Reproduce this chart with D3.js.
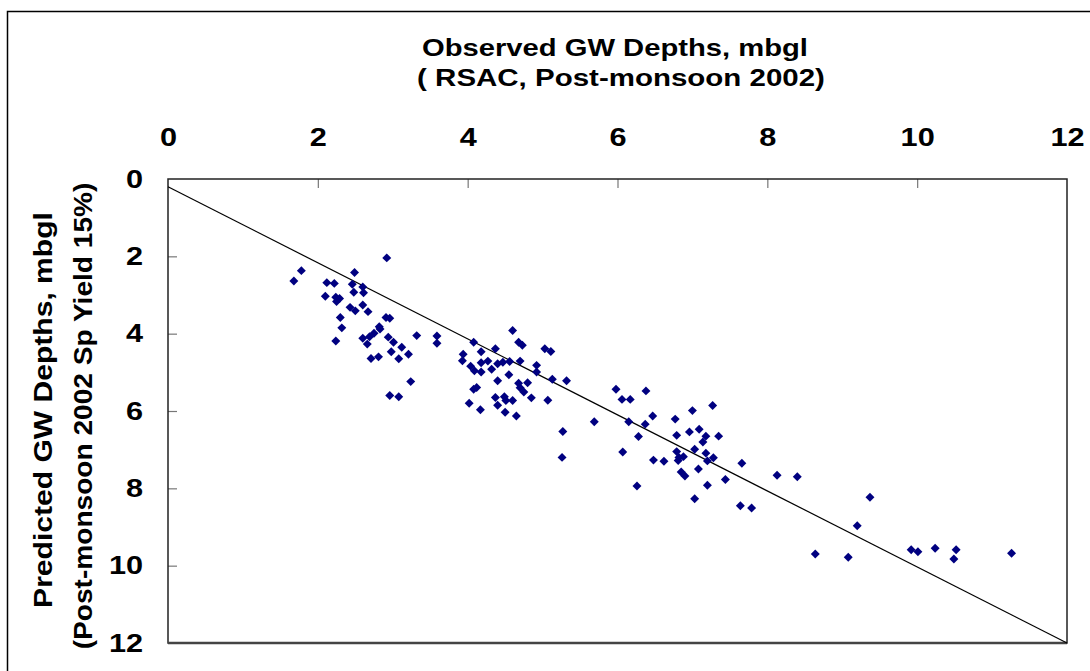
<!DOCTYPE html>
<html>
<head>
<meta charset="utf-8">
<script src="https://cdn.jsdelivr.net/npm/d3@7"></script>
<style>
  body { margin: 0; background: #fff; }
  text { font-family: "Liberation Sans", Arial, sans-serif; font-weight: bold; fill: #000; }
</style>
</head>
<body>
<div id="chart"></div>
<script>
// observed (x) vs predicted (y) GW depths
var observed = [
    2.92, 1.78, 1.68, 2.49, 2.12, 2.22, 2.46, 2.60, 2.48, 2.61, 2.10, 2.24, 2.29, 2.25, 2.43,
    2.50, 2.60, 2.67, 2.30, 2.91, 2.96, 2.32, 2.82, 2.83, 2.75, 2.69, 2.60, 2.66, 2.24, 2.94,
    3.01, 3.32, 3.59, 3.59, 2.98, 3.12, 3.21, 3.08, 2.71, 2.81, 3.24, 2.96, 3.08,
    4.60, 4.08, 4.68, 4.73, 4.37, 4.18, 5.03, 5.11, 3.94, 3.93, 4.18, 4.27, 4.40, 4.47, 4.56,
    4.70, 4.04, 4.09, 4.18, 4.32, 4.55, 4.92, 4.92, 5.13, 5.32, 4.40, 4.68, 4.80, 4.12, 4.08,
    4.70, 4.75, 4.37, 4.49, 4.51, 4.60, 4.85, 5.07, 4.02, 4.40, 4.17, 4.50, 4.65, 5.27, 5.26, 5.69,
    5.98, 6.38, 6.06, 6.17, 6.15, 6.47, 6.37, 6.28, 6.77, 6.79, 6.07, 6.26, 7.27, 7.00, 6.96,
    7.09, 7.18, 7.35, 7.14, 7.03, 6.79, 7.18, 6.82, 6.88, 6.81, 7.28, 7.20, 6.48, 6.62, 7.66,
    6.85, 6.90, 7.08, 7.44, 7.20, 7.03, 7.64, 7.79, 8.13, 8.40,
    9.37, 9.20, 8.64, 9.08, 9.92, 10.01, 10.24, 10.52, 10.49, 11.26
];
var predicted = [
    2.04, 2.37, 2.64, 2.42, 2.68, 2.70, 2.72, 2.79, 2.93, 2.94, 3.03, 3.06, 3.09, 3.17, 3.32,
    3.41, 3.26, 3.43, 3.58, 3.58, 3.60, 3.85, 3.82, 3.88, 3.99, 4.08, 4.12, 4.27, 4.19, 4.09,
    4.22, 4.05, 4.06, 4.25, 4.47, 4.35, 4.53, 4.65, 4.64, 4.60, 5.24, 5.60, 5.63,
    3.92, 4.22, 4.22, 4.30, 4.39, 4.47, 4.39, 4.46, 4.53, 4.70, 4.75, 4.71, 4.78, 4.74, 4.72,
    4.71, 4.84, 4.96, 4.99, 4.92, 5.06, 4.82, 4.99, 5.18, 5.22, 5.22, 5.28, 5.27, 5.39, 5.44,
    5.40, 5.51, 5.65, 5.63, 5.73, 5.73, 5.66, 5.72, 5.80, 5.85, 5.97, 6.03, 6.13, 6.53, 7.20, 6.28,
    5.44, 5.48, 5.70, 5.70, 6.28, 6.13, 6.34, 6.66, 6.21, 6.63, 7.06, 7.94, 5.86, 5.99, 6.54,
    6.47, 6.65, 6.65, 6.80, 6.99, 7.05, 7.09, 7.20, 7.18, 7.28, 7.21, 7.29, 7.27, 7.30, 7.35,
    7.58, 7.68, 7.50, 7.77, 7.92, 8.27, 8.45, 8.51, 7.66, 7.70,
    8.23, 8.97, 9.70, 9.78, 9.59, 9.64, 9.55, 9.59, 9.83, 9.68
];
var fitX = [0, 12];
var fitY = [0.2, 12];
var ticks = [0, 2, 4, 6, 8, 10, 12];

var svg = d3.select("#chart").append("svg")
    .attr("width", 1090)
    .attr("height", 671);

// the reference font is drawn wider than normal: widen the glyphs along the text run
function widen(sel, k) {
    sel.each(function () {
        var t = d3.select(this);
        var x0 = +t.attr("x") || 0;
        t.attr("x", x0 / k).attr("transform", (t.attr("transform") || "") + " scale(" + k + ",1)");
    });
}

// outer frame
svg.append("rect")
    .attr("x", 7.5).attr("y", 11.5)
    .attr("width", 1100).attr("height", 700)
    .attr("fill", "none").attr("stroke", "#000").attr("stroke-width", 1.5);

var x = d3.scaleLinear().domain([0, 12]).range([168, 1067]);
var y = d3.scaleLinear().domain([0, 12]).range([179, 643]);

var xAxis = svg.append("g")
    .attr("transform", "translate(0,179)")
    .call(d3.axisTop(x).tickValues(ticks).tickSizeInner(-9).tickSizeOuter(0).tickPadding(33));
var yAxis = svg.append("g")
    .attr("transform", "translate(168,0)")
    .call(d3.axisLeft(y).tickValues(ticks).tickSizeInner(-9).tickSizeOuter(0).tickPadding(25));

[xAxis, yAxis].forEach(function (ax) {
    ax.select(".domain").remove();
    ax.selectAll(".tick line")
        .attr("stroke", "#777")
        .attr("stroke-width", 1.2)
        .attr("opacity", d => (d == 0 || d == 12) ? 0 : 1);
    ax.selectAll(".tick text")
        .attr("font-family", "Liberation Sans, Arial, sans-serif")
        .attr("font-weight", "bold")
        .attr("font-size", 26)
        .attr("fill", "#000")
        .call(widen, 1.18);
});

// plot frame
svg.append("rect")
    .attr("x", x(0)).attr("y", y(0))
    .attr("width", x(12) - x(0)).attr("height", y(12) - y(0))
    .attr("fill", "none").attr("stroke", "#222").attr("stroke-width", 1.5);
svg.append("line")
    .attr("x1", x(0)).attr("x2", x(12))
    .attr("y1", y(12)).attr("y2", y(12))
    .attr("stroke", "#444").attr("stroke-width", 2.5);

// fitted line
svg.append("path")
    .attr("d", d3.line().x(d => x(d[0])).y(d => y(d[1]))(d3.zip(fitX, fitY)))
    .attr("fill", "none").attr("stroke", "#000").attr("stroke-width", 1.2);

// points
svg.selectAll(".pt")
    .data(d3.zip(observed, predicted)).enter().append("path")
    .attr("class", "pt")
    .attr("d", d3.symbol(d3.symbolSquare, 40))
    .attr("transform", d => "translate(" + x(d[0]) + "," + y(d[1]) + ") rotate(45)")
    .attr("fill", "#000080");

// titles, each widened to the width it has in the picture
function title(px, py, rot, size, width, label) {
    var g = svg.append("g").attr("transform", "translate(" + px + "," + py + ")" + (rot ? " rotate(-90)" : ""));
    var t = g.append("text")
        .attr("text-anchor", "middle").attr("font-size", size)
        .text(label);
    var k = width / t.node().getComputedTextLength();
    t.attr("transform", "scale(" + k + ",1)");
}
title(615, 56, false, 24, 386, "Observed GW Depths, mbgl");
title(621, 86, false, 24, 408, "( RSAC, Post-monsoon 2002)");
title(52, 410, true, 25, 396, "Predicted GW Depths, mbgl");
title(92, 416, true, 25, 467, "(Post-monsoon 2002 Sp Yield 15%)");
</script>
</body>
</html>
